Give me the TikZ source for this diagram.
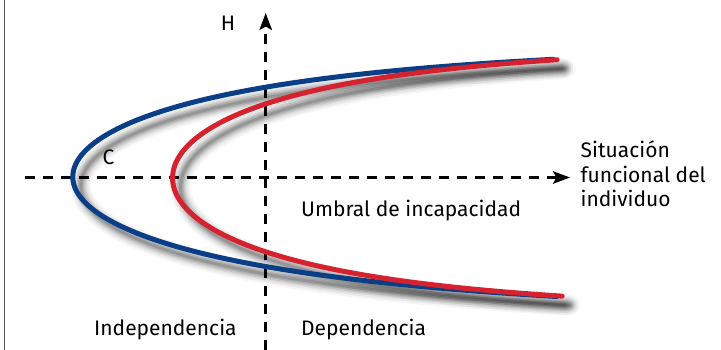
\documentclass[tikz,border=0pt]{standalone}
\usepackage{fontspec}
\setmainfont{Fira Sans}
\usetikzlibrary{arrows.meta}
\definecolor{cblue}{RGB}{10,63,135}
\definecolor{cred}{RGB}{214,33,47}
% blue: vertex (72.7,177); red: vertex (172.5,178)
\newcommand\bluecurve[1]{\draw[#1]
  plot[domain=21.92:0, samples=70, variable=\s] ({72.7+\s*\s},{177-133.5*sqrt(1-exp(-\s*\s/320))})
  -- plot[domain=0:22.0, samples=70, variable=\s] ({72.7+\s*\s},{177+139*sqrt(1-exp(-\s*\s/360))});}
\newcommand\redcurve[1]{\draw[#1]
  plot[domain=19.61:0, samples=70, variable=\s] ({172.5+\s*\s},{178-134*sqrt(1-exp(-\s*\s/255))})
  -- plot[domain=0:19.74, samples=70, variable=\s] ({172.5+\s*\s},{178+133.5*sqrt(1-exp(-\s*\s/255))});}
\begin{document}
\begin{tikzpicture}[x=1pt,y=-1pt,
  lbl/.style={inner sep=0pt, font=\fontsize{21}{24}\selectfont},
  axisline/.style={line width=2.7pt, dash pattern=on 10pt off 8pt, -{Stealth[length=17pt,width=12.5pt,inset=3.5pt]}},
  curve/.style={line width=5pt, line cap=round, line join=round},
  shadowline/.style={line cap=round, line join=round, black, shift={(8,9)}},
]
\useasboundingbox (0,0) rectangle (721,350);
% left border
\coordinate (b1) at (4.5,0);
\coordinate (b2) at (4.5,350);
\draw[gray!70!black, line width=1.2pt] (b1) -- (b2);
% shadows
\foreach \w/\o in {20/0.035,16/0.05,12/0.07,9/0.09,6/0.11,3/0.14}{
  \bluecurve{shadowline, line width=\w pt, opacity=\o}
  \redcurve{shadowline, line width=\w pt, opacity=\o}
}
% axes
\coordinate (ybot) at (265.7,350);
\coordinate (ytop) at (265.7,13);
\coordinate (xl) at (25,177.5);
\coordinate (xr) at (570,177.5);
\draw[axisline] (ybot) -- (ytop);
\draw[axisline] (xl) -- (xr);
% curves
\bluecurve{curve, cblue}
\redcurve{curve, cred}
% labels
\node[lbl, anchor=base] (H) at (228,30.7) {H};
\node[lbl, anchor=base] (C) at (108.5,165) {C};
\node[lbl, anchor=base west] (umbral) at (301,216.7) {Umbral de incapacidad};
\node[lbl, anchor=base west] (indep) at (94,335) {Independencia};
\node[lbl, anchor=base west] (dep) at (301,335) {Dependencia};
\node[lbl, anchor=base west] (s1) at (580.5,158) {Situación};
\node[lbl, anchor=base west] (s2) at (580.5,182.5) {funcional del};
\node[lbl, anchor=base west] (s3) at (580.5,206.7) {individuo};
\end{tikzpicture}
\end{document}
